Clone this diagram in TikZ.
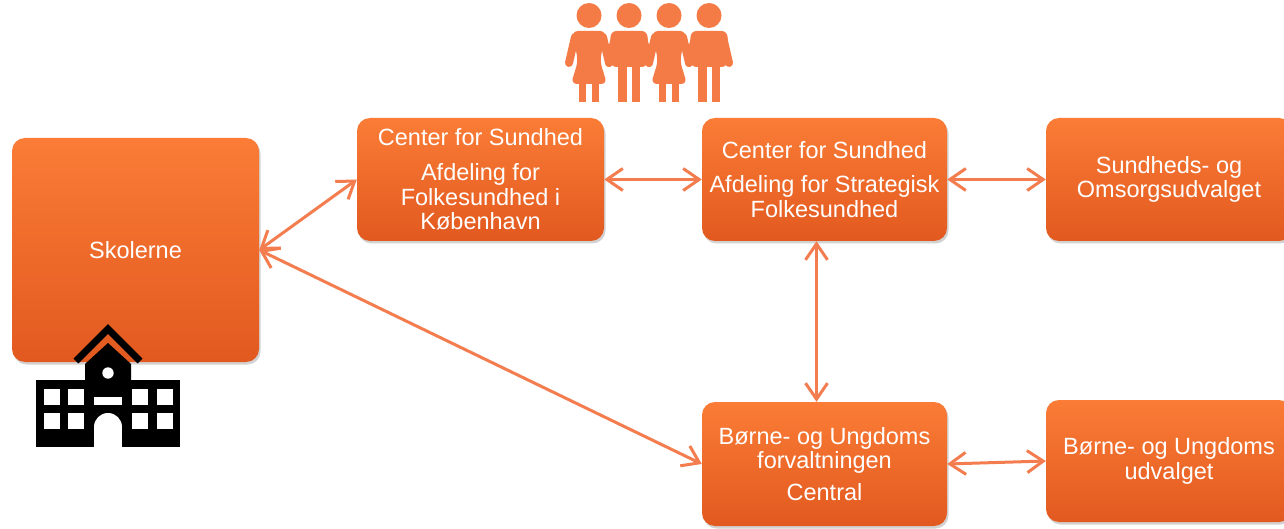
\documentclass[tikz,border=0pt]{standalone}
\usepackage{fontspec}
\setmainfont{Liberation Sans}
\usetikzlibrary{arrows.meta,shadows}
\definecolor{boxtop}{HTML}{FA7C36}
\definecolor{boxbot}{HTML}{E2591F}
\definecolor{arrowc}{HTML}{F47D50}
\definecolor{peoplec}{HTML}{F47B45}
\begin{document}
\begin{tikzpicture}[x=1pt,y=1pt,
  orgbox/.style={rounded corners=13pt, top color=boxtop, bottom color=boxbot,
    text=white, align=center, inner sep=0pt,
    font=\fontsize{23.5}{24.5}\selectfont,
    drop shadow={opacity=0.35,shadow xshift=1.5pt,shadow yshift=-2.5pt}},
  conn/.style={draw=arrowc, line width=3pt,
    >={Straight Barb[length=16pt,width=22pt]}, <->},
  icon/.style={fill=peoplec}]
\clip (0,0) rectangle (1284,528);
\fill[white] (0,0) rectangle (1284,528);

\node[orgbox, minimum width=247pt, minimum height=224pt] (S) at (135.5,278) {Skolerne};
\node[orgbox, minimum width=247pt, minimum height=123pt] (A) at (480.5,348.5)
  {Center for Sundhed\\[10.5pt] Afdeling for\\ Folkesundhed i\\ København};
\node[orgbox, minimum width=245pt, minimum height=123pt] (B) at (824.5,348.5)
  {Center for Sundhed\\[9.5pt] Afdeling for Strategisk\\ Folkesundhed};
\node[orgbox, minimum width=246pt, minimum height=123pt] (C) at (1169,348.5)
  {Sundheds- og\\ Omsorgsudvalget};
\node[orgbox, minimum width=245pt, minimum height=124pt] (D) at (824.5,64)
  {Børne- og Ungdoms\\ forvaltningen\\[7.5pt] Central};
\node[orgbox, minimum width=246pt, minimum height=122pt] (E) at (1169,67)
  {Børne- og Ungdoms\\ udvalget};

\draw[conn] (S.east) -- (A.west);
\draw[conn] (S.east) -- (D.west);
\draw[conn] (A.east) -- (B.west);
\draw[conn] (B.east) -- (C.west);
\draw[conn] ([xshift=-8pt]B.south) -- ([xshift=-8pt]D.north);
\draw[conn] (D.east) -- (E.west);

% icons in image coordinates
\begin{scope}[shift={(0,528)}, yscale=-1]
  % school
  \draw[line width=7pt, miter limit=10] (76,361) -- (108,329) -- (140,361);
  \fill (85,381) -- (85,364) -- (108,343) -- (131,364) -- (131,381) -- cycle;
  \fill (36,380) rectangle (180,447);
  \fill[white] (108,373) circle (5.7);
  \foreach \wx in {44,68,132,157}{
    \fill[white] (\wx,389) rectangle (\wx+16,405);
    \fill[white] (\wx,413) rectangle (\wx+16,429);
  }
  \fill[white] (94,397) rectangle (122,405);
  \fill[white] (108,427) circle (14);
  \fill[white] (94,427) rectangle (122,447);
  % people
  \foreach \c in {589,629,669,709}{
    \fill[icon] (\c,15.5) circle (12.5);
    \draw[peoplec, line width=8pt, line cap=round] (\c-14,37) -- (\c-20,63);
    \draw[peoplec, line width=8pt, line cap=round] (\c+14,37) -- (\c+20,63);
  }
  \foreach \c in {589,669}{
    \fill[icon, rounded corners=6pt] (\c-17,31) -- (\c+17,31) -- (\c+11,61)
      -- (\c+18,84) -- (\c-18,84) -- (\c-11,61) -- cycle;
    \fill[icon] (\c-10,82) rectangle (\c-3,102);
    \fill[icon] (\c+3,82) rectangle (\c+10,102);
  }
  \foreach \c in {629,709}{
    \fill[icon, rounded corners=6pt] (\c-18.5,31) -- (\c+18.5,31) -- (\c+18.5,67)
      -- (\c-18.5,67) -- cycle;
    \fill[icon] (\c-11,64) rectangle (\c-2.5,102);
    \fill[icon] (\c+2.5,64) rectangle (\c+11,102);
  }
\end{scope}
\end{tikzpicture}
\end{document}
